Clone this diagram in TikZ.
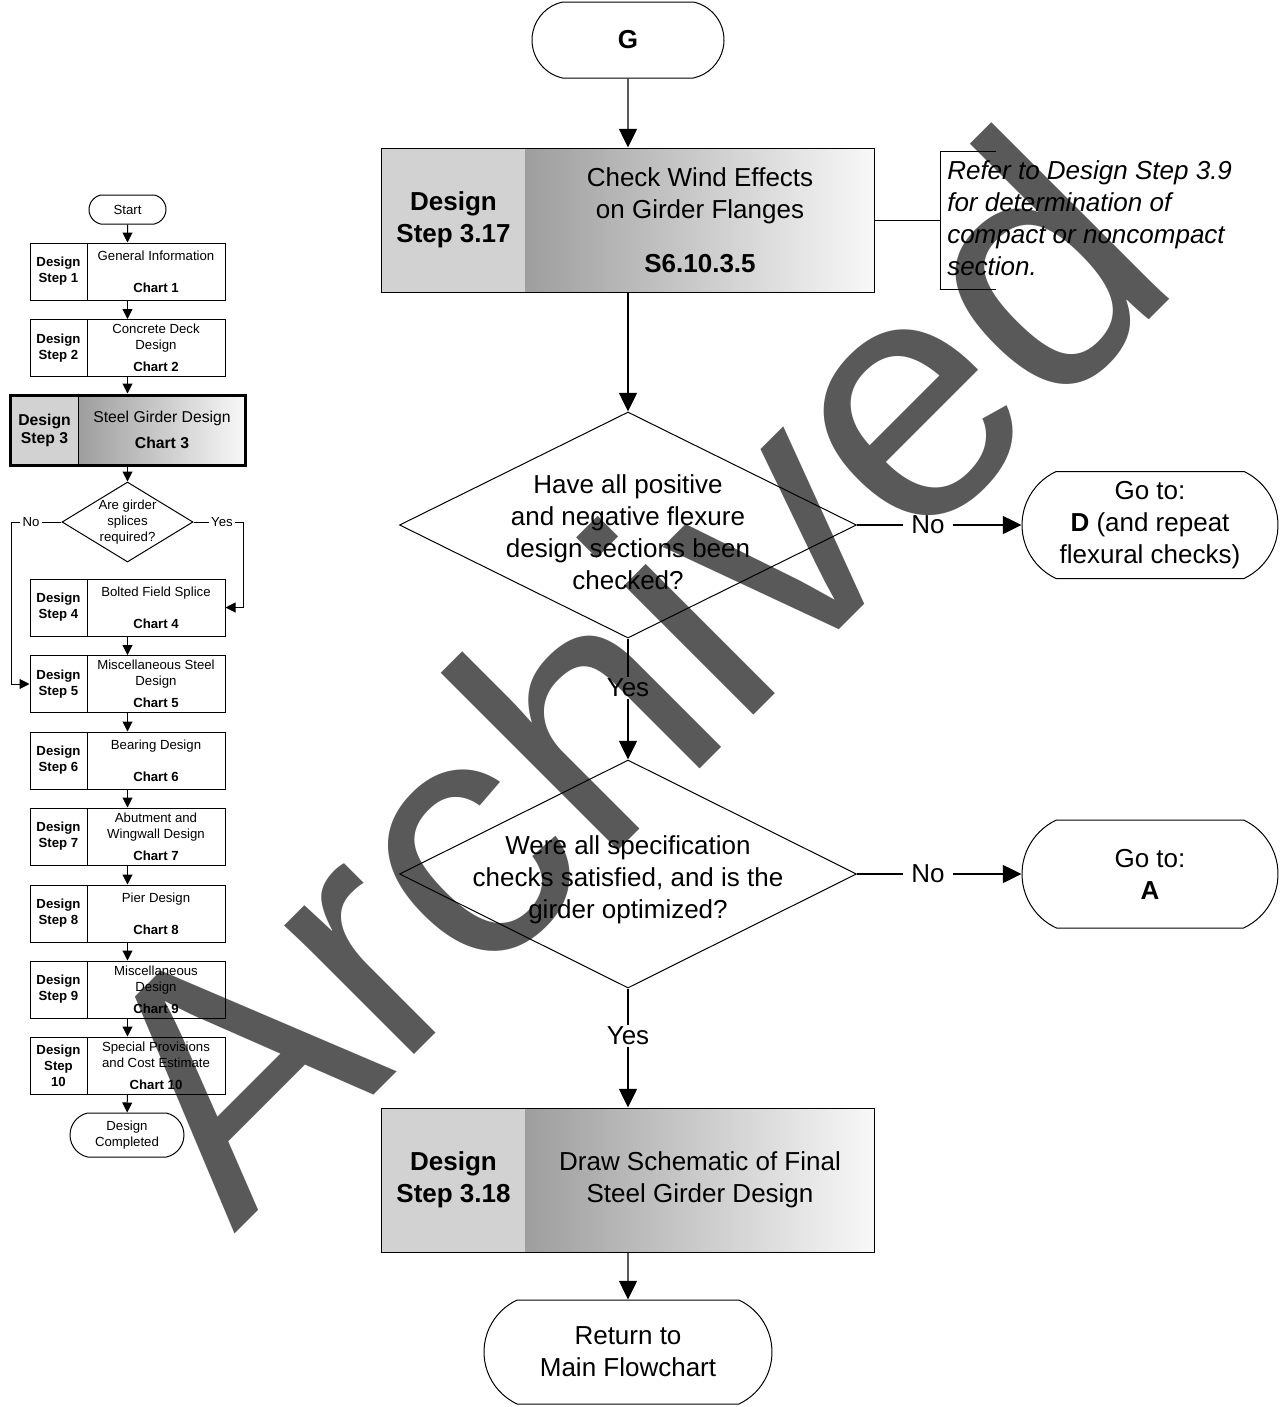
\documentclass[tikz,border=0pt]{standalone}
\usepackage{fontspec}
\setmainfont{Liberation Sans}
\usetikzlibrary{arrows.meta,shapes.geometric,shapes.misc}

% one drawing unit = one pixel of the 1281 x 1407 sheet
\newcommand{\pxlen}{0.75pt}

\definecolor{wmgray}{RGB}{89,89,89}
\definecolor{stepfill}{RGB}{210,210,210}
\definecolor{shadeleft}{RGB}{158,158,158}
\definecolor{shaderight}{RGB}{248,248,248}

\tikzset{
  bigtext/.style={font=\fontsize{19.5pt}{24pt}\selectfont},
  bigbold/.style={font=\fontsize{19.5pt}{24pt}\selectfont\bfseries},
  notetext/.style={font=\fontsize{19.5pt}{24pt}\selectfont\itshape},
  smalltext/.style={font=\fontsize{9.9pt}{11.9pt}\selectfont},
  smallbold/.style={font=\fontsize{9.9pt}{11.9pt}\selectfont\bfseries},
  midtext/.style={font=\fontsize{11.8pt}{13.5pt}\selectfont},
  midbold/.style={font=\fontsize{11.8pt}{13.5pt}\selectfont\bfseries},
  cell/.style={inner sep=0pt, align=center, line width=0.75pt},
  stepcell/.style={cell, draw, fill=stepfill},
  taskcell/.style={cell, left color=shadeleft, right color=shaderight},
  minicell/.style={cell, draw},
  boxframe/.style={draw, line width=0.75pt, inner sep=0pt},
  terminal/.style={draw, line width=0.75pt, rounded rectangle,
    rounded rectangle arc length=130, inner sep=0pt, align=center},
  roundterminal/.style={terminal, rounded rectangle arc length=155},
  decision/.style={draw, line width=0.75pt, diamond, inner sep=0pt},
  tag/.style={inner xsep=6pt, inner ysep=1pt},
  smalltag/.style={inner xsep=1.5pt, inner ysep=0.5pt},
  flowline/.style={line width=1pt},
  flow/.style={flowline, -{Triangle[length=14pt,width=13.5pt]}},
  miniline/.style={line width=0.75pt},
  miniflow/.style={miniline, -{Triangle[length=7.5pt,width=7.5pt]}},
  watermark/.style={text=wmgray, inner sep=0pt, anchor=base west, rotate=45,
    font=\fontsize{259.5pt}{260pt}\selectfont},
}

% small chart box: name, centre y, step text, chart text
\newcommand{\chartbox}[4]{%
  \node[minicell, smallbold, minimum width=57*\pxlen, minimum height=57*\pxlen] (#1l) at (58.5,#2) {#3};
  \node[cell, smalltext, minimum width=138*\pxlen, minimum height=57*\pxlen] (#1r) at (156,#2) {#4};
  \node[boxframe, minimum width=195*\pxlen, minimum height=57*\pxlen] (#1) at (127.5,#2) {};
}

\begin{document}
\begin{tikzpicture}[x=0.75pt, y=-0.75pt]
\useasboundingbox (0,0) rectangle (1281,1407);

% background stamp
\node[watermark] (wm) at (234,1235) {Archived};

% ---------------- main column ----------------
\node[roundterminal, bigbold, minimum width=192*\pxlen, minimum height=76*\pxlen] (G) at (628,40) {G};

\node[stepcell, bigbold, minimum width=144*\pxlen, minimum height=144*\pxlen] (s317) at (453.5,220) {Design\\Step 3.17};
\node[taskcell, bigtext, minimum width=349*\pxlen, minimum height=144*\pxlen] (t317) at (700,220)
  {Check Wind Effects\\on Girder Flanges\\[16.5pt]\textbf{S6.10.3.5}};
\node[boxframe, minimum width=493*\pxlen, minimum height=144*\pxlen] (b317) at (628,220) {};

% side note with bracket
\node[notetext, anchor=west, align=left, inner sep=0pt] (note) at (947,218)
  {Refer to Design Step 3.9\\for determination of\\compact or noncompact\\section.};
\coordinate (brk) at (940,220);
\draw[miniline] (b317.east) -- (brk);
\draw[miniline] (996,151) -- (940,151) -- (940,289) -- (996,289);

% first decision
\node[decision, minimum width=457*\pxlen, minimum height=226*\pxlen] (d1) at (628,525) {};
\node[bigtext, align=center, inner sep=0pt] (d1txt) at (628,532)
  {Have all positive\\and negative flexure\\design sections been\\checked?};
\node[terminal, bigtext, minimum width=256*\pxlen, minimum height=107*\pxlen] (goD) at (1150,525)
  {Go to:\\\textbf{D} (and repeat\\flexural checks)};
\node[bigtext, tag] (no1) at (928,525) {No};
\node[bigtext, tag] (yes1) at (628,688) {Yes};

% second decision
\node[decision, minimum width=457*\pxlen, minimum height=228*\pxlen] (d2) at (628,874) {};
\node[bigtext, align=center, inner sep=0pt] (d2txt) at (628,880)
  {Were all specification\\checks satisfied, and is the\\girder optimized?};
\node[terminal, bigtext, minimum width=256*\pxlen, minimum height=108*\pxlen] (goA) at (1150,874)
  {Go to:\\\textbf{A}};
\node[bigtext, tag] (no2) at (928,874) {No};
\node[bigtext, tag] (yes2) at (628,1036) {Yes};

% final step
\node[stepcell, bigbold, minimum width=144*\pxlen, minimum height=144*\pxlen] (s318) at (453.5,1180) {Design\\Step 3.18};
\node[taskcell, bigtext, minimum width=349*\pxlen, minimum height=144*\pxlen] (t318) at (700,1180)
  {Draw Schematic of Final\\Steel Girder Design};
\node[boxframe, minimum width=493*\pxlen, minimum height=144*\pxlen] (b318) at (628,1180) {};

\node[terminal, bigtext, minimum width=288*\pxlen, minimum height=104*\pxlen] (ret) at (628,1352)
  {Return to\\Main Flowchart};

% main connectors
\draw[flow] (G) -- (b317);
\draw[flow] (b317) -- (d1);
\draw[flowline] (d1) -- (no1);
\draw[flow] (no1) -- (goD);
\draw[flowline] (d1) -- (yes1);
\draw[flow] (yes1) -- (d2);
\draw[flowline] (d2) -- (no2);
\draw[flow] (no2) -- (goA);
\draw[flowline] (d2) -- (yes2);
\draw[flow] (yes2) -- (b318);
\draw[flow] (b318) -- (ret);

% ---------------- overview chart ----------------
\node[roundterminal, smalltext, minimum width=77*\pxlen, minimum height=29*\pxlen] (start) at (127.5,209.5) {Start};

\chartbox{c1}{271.5}{Design\\Step 1}{General Information\\[12pt]\textbf{Chart 1}}
\chartbox{c2}{348}{Design\\Step 2}{Concrete Deck\\Design\\[4.5pt]\textbf{Chart 2}}

% highlighted step 3
\node[stepcell, midbold, line width=1.5pt, minimum width=69*\pxlen, minimum height=70*\pxlen] (c3l) at (44.5,430) {Design\\Step 3};
\node[taskcell, midtext, minimum width=166*\pxlen, minimum height=70*\pxlen] (c3r) at (162,430)
  {Steel Girder Design\\[6pt]\textbf{Chart 3}};
\node[boxframe, line width=2.25pt, minimum width=235*\pxlen, minimum height=70*\pxlen] (c3) at (127.5,430) {};

\node[decision, minimum width=131*\pxlen, minimum height=80*\pxlen] (md) at (127.5,522) {};
\node[smalltext, align=center, inner sep=0pt] (mdtxt) at (127.5,522) {Are girder\\splices\\required?};
\node[smalltext, smalltag] (mno) at (31,522) {No};
\node[smalltext, smalltag] (myes) at (222,522) {Yes};
\coordinate (nocorner) at (11,522);
\coordinate (yescorner) at (243,522);

\chartbox{c4}{607.5}{Design\\Step 4}{Bolted Field Splice\\[12pt]\textbf{Chart 4}}
\chartbox{c5}{684}{Design\\Step 5}{Miscellaneous Steel\\Design\\[4.5pt]\textbf{Chart 5}}
\chartbox{c6}{760.5}{Design\\Step 6}{Bearing Design\\[12pt]\textbf{Chart 6}}
\chartbox{c7}{836.5}{Design\\Step 7}{Abutment and\\Wingwall Design\\[4.5pt]\textbf{Chart 7}}
\chartbox{c8}{913.5}{Design\\Step 8}{Pier Design\\[12pt]\textbf{Chart 8}}
\chartbox{c9}{989.5}{Design\\Step 9}{Miscellaneous\\Design\\[4.5pt]\textbf{Chart 9}}
\chartbox{c10}{1065.5}{Design\\Step\\10}{Special Provisions\\and Cost Estimate\\[4.5pt]\textbf{Chart 10}}

\node[roundterminal, smalltext, minimum width=114*\pxlen, minimum height=44*\pxlen] (done) at (127,1135) {Design\\Completed};

% overview connectors
\draw[miniflow] (start) -- (c1);
\draw[miniflow] (c1) -- (c2);
\draw[miniflow] (c2) -- (c3);
\draw[miniflow] (c3) -- (md);
\draw[miniline] (md) -- (mno);
\draw[miniflow] (mno) -- (nocorner) |- (c5l.west);
\draw[miniline] (md) -- (myes);
\draw[miniflow] (myes) -- (yescorner) |- (c4r.east);
\draw[miniflow] (c4) -- (c5);
\draw[miniflow] (c5) -- (c6);
\draw[miniflow] (c6) -- (c7);
\draw[miniflow] (c7) -- (c8);
\draw[miniflow] (c8) -- (c9);
\draw[miniflow] (c9) -- (c10);
\draw[miniflow] (c10) -- (done);
\end{tikzpicture}
\end{document}
